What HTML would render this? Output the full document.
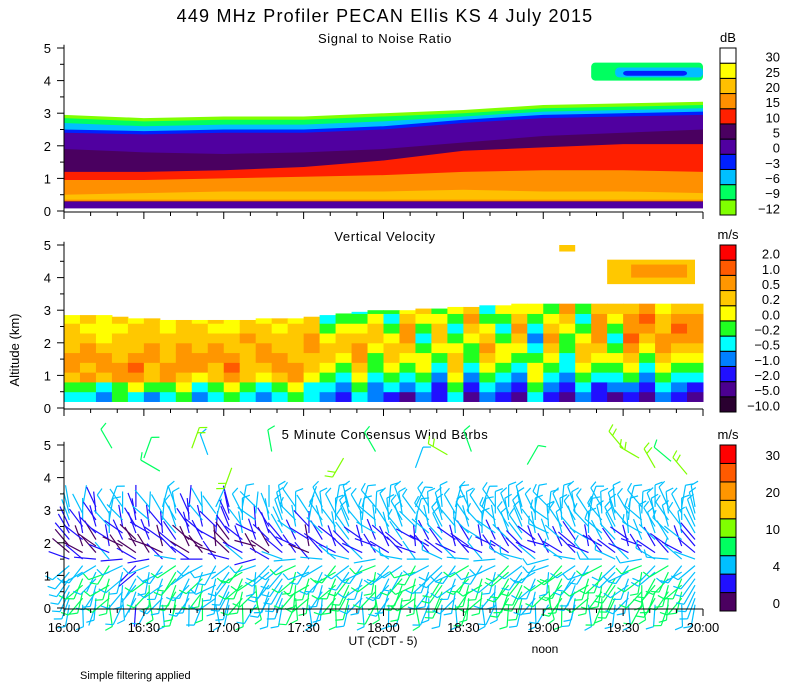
<!DOCTYPE html>
<html><head><meta charset="utf-8"><style>
body{margin:0;background:#fff;}
svg{display:block;font-family:"Liberation Sans",sans-serif;}
</style></head><body>
<svg id="c" width="800" height="700" xmlns="http://www.w3.org/2000/svg">
<text x="385" y="22" font-size="18" letter-spacing="1.2" text-anchor="middle">449 MHz Profiler PECAN Ellis KS  4 July 2015</text>
<text x="385" y="43" font-size="13" letter-spacing="0.6" text-anchor="middle">Signal to Noise Ratio</text>
<text x="385" y="241" font-size="13" letter-spacing="0.6" text-anchor="middle">Vertical Velocity</text>
<text x="385" y="439" font-size="13" letter-spacing="0.6" text-anchor="middle">5 Minute Consensus Wind Barbs</text>
<text x="19" y="350" font-size="13" text-anchor="middle" transform="rotate(-90 19 350)">Altitude (km)</text>
<text x="383" y="645" font-size="12" text-anchor="middle">UT  (CDT - 5)</text>
<text x="545" y="653" font-size="12" text-anchor="middle">noon</text>
<text x="80" y="679" font-size="11">Simple filtering applied</text>
<g id="g1"></g><g id="g2"></g><g id="g3"></g><g id="axes"></g><g id="bars"></g>
</svg>
<script>
// ---- data ----
const timeLabels=["16:00","16:30","17:00","17:30","18:00","18:30","19:00","19:30","20:00"];
const snrTimes=[16,16.5,17,17.5,18,18.5,19,19.5,20];
const snrLimeTop=[2.95,2.85,2.9,2.9,3.0,3.1,3.25,3.3,3.35];
const snrGreenTop=[2.85,2.75,2.8,2.8,2.9,3.0,3.15,3.2,3.25];
const snrCyanTop=[2.7,2.6,2.65,2.65,2.75,2.9,3.05,3.1,3.15];
const snrBlueTop=[2.5,2.45,2.5,2.5,2.6,2.8,2.95,3.0,3.05];
const snrPurpleTop=[2.4,2.35,2.4,2.4,2.5,2.7,2.85,2.9,2.95];
const snrDarkTop=[1.9,1.8,1.75,1.8,1.9,2.1,2.3,2.4,2.5];
const snrRedTop=[1.2,1.2,1.25,1.35,1.55,1.85,1.95,2.05,2.05];
const snrOrangeTop=[0.95,0.95,1.0,1.05,1.1,1.2,1.25,1.25,1.2];
const snrYellowTop=[0.5,0.55,0.6,0.6,0.6,0.65,0.6,0.6,0.55];
const snrColors=["#80ff00","#00ff60","#00c0ff","#0020ff","#5000a0","#4a0060","#ff2000","#ff9000","#ffc000","#ffff00","#ffffff"];
const snrLabels=["-12","-9","-6","-3","0","5","10","15","20","25","30"];
const vvCols=["4578877766","4587887676","3478876667","5588777676","4689877766","3577887776","4588777667","5678887776","3468877766","4577887677","5689877666","4577778776","3467887766","4578877676","5688777766","4467788776","3456776545","2345677656","4567887654","3345567765","2456776545","1345678876","3456654567","2234567765","4567765456","1234556787","3456787654","2345665456","1234567876","4566543456","2345678765","1234455678","3456776545","2245678887","1345654567","2356789887","1234567898","3456788776","2345678987","1245678887"];
const vvTop=[2.85,2.85,2.85,2.8,2.75,2.75,2.7,2.7,2.7,2.7,2.7,2.7,2.75,2.75,2.75,2.8,2.85,2.9,2.95,3.0,3.0,3.0,3.05,3.05,3.1,3.1,3.15,3.15,3.2,3.2,3.2,3.2,3.25,3.25,3.3,3.3,3.3,3.3,3.3,3.3];
const vvColors=["#2a0030","#4b0090","#2010ff","#0080ff","#00ffff","#20ff20","#ffff00","#ffc800","#ff9600","#ff5a00","#ff0000"];
const vvLabels=["-10.0","-5.0","-2.0","-1.0","-0.5","-0.2","0.0","0.2","0.5","1.0","2.0"];
const windLevels=[0.1,0.3,0.5,0.7,0.9,1.1,1.3,1.5,1.7,1.9,2.1,2.3,2.5,2.7,2.9,3.1];
const windDirByLevel=[190,200,205,210,215,220,230,290,310,320,320,330,335,340,345,350];
const windSpdByLevel=[5,6,6,6,6,5,5,3,1.5,1.5,2,3,3,4,4,4];
const windDirOffset=[0,20,-15,30,-25,10,-30,25,-10,15,-20,35,-5,20,-35,10,0,-25,30,-15,20,-5,25,-30,15,-10,35,-20,5,25,-15,30,-25,10,-5,20,-35,15,-10,30,-20,5,25,-30,10,-15,20,0];
const windSpdOffset=[0,1,-1,2,0,-2,1,0,2,-1,1,0,-1,2,1,0,3,2,1,3,2,4,3,2,3,4,2,3,4,3,2,4,3,5,4,3,4,5,3,4,5,4,3,5,4,5,4,3];
const upperT=[16.3,16.5,16.6,16.9,17.05,17.3,17.75,17.95,18.2,18.4,18.55,18.9,19.5,19.6,19.7,19.8,19.9,16.8];
const upperH=[4.9,4.6,4.2,4.7,4.3,4.8,4.6,4.8,4.3,4.7,4.8,4.4,4.9,4.6,4.3,4.5,4.1,4.9];
const upperDir=[330,20,300,340,200,350,210,330,20,300,340,30,320,300,330,310,320,20];
const upperSpd=[9,7,8,5,12,8,10,9,6,14,8,7,11,10,12,9,11,13];
const windColors=["#4b0060","#2010ff","#00c0ff","#00ff60","#80ff00","#ffc800","#ff9600","#ff5a00","#ff0000"];
const windBounds=[2,4,7,10,15,20,25,30];
const windLabels=["0","","4","","10","","20","","30"];

// ---- layout ----
const NS="http://www.w3.org/2000/svg";
const X0=64,X1=703;
const panels=[211,408,608];
const KM=32.6;
function xs(t){return X0+(t-16)*(X1-X0)/4;}
function ys(p,h){return panels[p]-h*KM;}
function mk(tag,attrs,parent){const e=document.createElementNS(NS,tag);for(const k in attrs)e.setAttribute(k,attrs[k]);parent.appendChild(e);return e;}
const g1=document.getElementById('g1'),g2=document.getElementById('g2'),g3=document.getElementById('g3'),ax=document.getElementById('axes'),bars=document.getElementById('bars');

function band(top,bot,col,name){
  let pts=[];
  snrTimes.forEach((t,i)=>pts.push(xs(t)+','+ys(0,top[i])));
  for(let i=snrTimes.length-1;i>=0;i--)pts.push(xs(snrTimes[i])+','+ys(0,bot));
  const p=mk('polygon',{points:pts.join(' '),fill:col},g1);
  
  
}
band(snrLimeTop,0.25,snrColors[0],'snr-band-lime');
band(snrGreenTop,0.25,snrColors[1],'snr-band-green');
band(snrCyanTop,0.25,snrColors[2],'snr-band-cyan');
band(snrBlueTop,0.25,snrColors[3],'snr-band-blue');
band(snrPurpleTop,0.25,snrColors[4],'snr-band-purple');
band(snrDarkTop,0.25,snrColors[5],'snr-band-dark');
band(snrRedTop,0.3,snrColors[6],'snr-band-red');
band(snrOrangeTop,0.3,snrColors[7],'snr-band-orange');
band(snrYellowTop,0.35,snrColors[8],'snr-band-gold');
{const r=mk('rect',{x:X0,y:ys(0,0.28),width:X1-X0,height:0.2*KM,fill:snrColors[4]},g1);

}
[[19.3,4.55,20,4.0,snrColors[1]],[19.45,4.4,20,4.1,snrColors[2]],[19.5,4.3,19.9,4.15,snrColors[3]]].forEach(a=>{
  const r=mk('rect',{x:xs(a[0]),y:ys(0,a[1]),width:xs(a[2])-xs(a[0]),height:(a[1]-a[3])*KM,fill:a[4],rx:4},g1);
  
  
});

const cw=(X1-X0)/vvCols.length;
vvCols.forEach((s,i)=>{
  for(let r=0;r<s.length;r++){
    const h0=0.2+r*0.3,h1=Math.min(h0+0.3,vvTop[i]);
    if(h1<=h0)continue;
    const c=mk('rect',{x:X0+i*cw,y:ys(1,h1),width:cw+0.5,height:(h1-h0)*KM+0.5,fill:vvColors[+s[r]]},g2);
    
    
  }
});
[[19.4,4.55,19.95,3.8,"#ffc800"],[19.55,4.4,19.9,4.0,"#ff9600"],[19.1,5.0,19.2,4.8,"#ffc800"]].forEach(a=>{
  const r=mk('rect',{x:xs(a[0]),y:ys(1,a[1]),width:xs(a[2])-xs(a[0]),height:(a[1]-a[3])*KM,fill:a[4]},g2);
  
  
});

function wcol(s){let i=0;while(i<windBounds.length&&s>=windBounds[i])i++;return windColors[i];}
function barb(t,h,dir,spd){
  const x=xs(t),y=ys(2,h),L=22,a=dir*Math.PI/180;
  const ex=x+Math.sin(a)*L,ey=y-Math.cos(a)*L;
  const col=wcol(spd);
  const g=mk('g',{stroke:col,'stroke-width':1.2,fill:'none'},g3);
  
  
  mk('line',{x1:x,y1:y,x2:ex,y2:ey},g);
  const n=spd>=10?2:(spd>=5?1:0);
  for(let k=0;k<n;k++){
    const f=1-k*0.25,bx=x+Math.sin(a)*L*f,by=y-Math.cos(a)*L*f;
    const fa=a+Math.PI/2.6;
    mk('line',{x1:bx,y1:by,x2:bx+Math.sin(fa)*8,y2:by-Math.cos(fa)*8},g);
  }
}
windDirOffset.forEach((off,i)=>{
  const t=16+(i*5+2)/60;
  windLevels.forEach((h,j)=>{
    barb(t,h,windDirByLevel[j]+off*(j%2?1:-0.6),Math.max(1,windSpdByLevel[j]+(j<7?windSpdOffset[i]%3:Math.floor(windSpdOffset[i]/2))));
  });
});
upperT.forEach((t,i)=>barb(t,upperH[i],upperDir[i],upperSpd[i]));

panels.forEach((y0,p)=>{
  const a=mk('g',{stroke:'#000','stroke-width':1},ax);
  
  
  mk('line',{x1:X0,y1:y0+1,x2:X0,y2:y0-5.1*KM},a);
  mk('line',{x1:X0,y1:y0+1,x2:X1,y2:y0+1},a);
  for(let h=0;h<=5;h++){
    mk('line',{x1:X0-7,y1:ys(p,h),x2:X0,y2:ys(p,h)},a);
    if(h<5)mk('line',{x1:X0-4,y1:ys(p,h+0.5),x2:X0,y2:ys(p,h+0.5)},a);
    const tx=mk('text',{x:X0-13,y:ys(p,h)+5,'font-size':13,'text-anchor':'end',stroke:'none',fill:'#000'},ax);
    tx.textContent=h;
    
    
  }
  for(let m=0;m<=24;m++){
    const x=X0+m*(X1-X0)/24;
    mk('line',{x1:x,y1:y0+1,x2:x,y2:y0+(m%3==0?8:5)},a);
  }
});
timeLabels.forEach((l,i)=>{
  const tx=mk('text',{x:xs(16+i*0.5),y:632,'font-size':13,'text-anchor':'middle'},ax);
  tx.textContent=l;
  
  
});

function cbar(yTop,yBot,colors,labels,unit,name){
  const n=colors.length,bh=(yBot-yTop)/n;
  const u=mk('text',{x:728,y:yTop-6,'font-size':13,'text-anchor':'middle'},bars);
  u.textContent=unit;
  
  
  colors.forEach((c,i)=>{
    const y=yBot-(i+1)*bh;
    const r=mk('rect',{x:720,y:y,width:16,height:bh,fill:c,stroke:'#000','stroke-width':1},bars);
    
    
    if(labels[i]){
      const t=mk('text',{x:780,y:y+bh/2+6,'font-size':13,'text-anchor':'end'},bars);
      t.textContent=labels[i].replace('-','\u2212');
      
      
    }
  });
}
cbar(48,215,snrColors,snrLabels,'dB','snr-colorbar');
cbar(245,412,vvColors,vvLabels,'m/s','vv-colorbar');
cbar(445,611,windColors,windLabels,'m/s','wind-colorbar');
</script>
</body></html>
